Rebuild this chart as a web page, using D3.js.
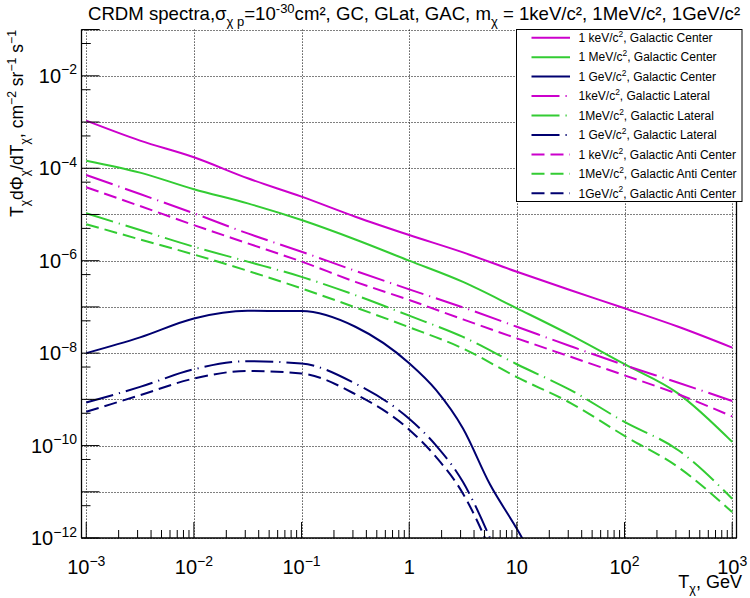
<!DOCTYPE html>
<html>
<head>
<meta charset="utf-8">
<script src="https://cdn.jsdelivr.net/npm/d3@7"></script>
<style>
  html, body { margin: 0; padding: 0; background: #fff; }
  svg { display: block; font-family: "Liberation Sans", Arial, Helvetica, sans-serif; }
</style>
</head>
<body>
<svg id="chart" width="750" height="598"></svg>
<script>
// ---------------- data ----------------
const T_half = [0.001, 0.00316, 0.01, 0.0316, 0.1, 0.316, 1, 3.16, 10, 31.6, 100, 316, 1000];
const T_gev  = [0.001, 0.00316, 0.01, 0.0316, 0.1, 0.316, 1, 1.78, 3.16, 5.62, 10, 31.6];

const keV_GC   = [1.07e-3, 3.96e-4, 1.73e-4, 6.07e-5, 2.43e-5, 8.95e-6, 3.59e-6, 1.51e-6, 5.75e-7, 2.29e-7, 9.33e-8, 3.72e-8, 1.32e-8];
const MeV_GC   = [1.46e-4, 8.05e-5, 3.51e-5, 1.74e-5, 7.59e-6, 2.88e-6, 1.0e-6, 3.47e-7, 9.33e-8, 2.45e-8, 5.75e-9, 1.33e-9, 1.20e-10];
const GeV_GC   = [1.0e-8, 2.19e-8, 5.62e-8, 8.22e-8, 8.13e-8, 3.72e-8, 6.03e-9, 1.58e-9, 2.34e-10, 1.45e-11, 1.58e-12, 1e-14];
const keV_Lat  = [7.16e-5, 2.77e-5, 1.06e-5, 3.89e-6, 1.56e-6, 6.03e-7, 2.40e-7, 9.77e-8, 3.72e-8, 1.41e-8, 5.50e-9, 2.29e-9, 9.23e-10];
const MeV_Lat  = [1.06e-5, 4.60e-6, 2.0e-6, 9.55e-7, 4.47e-7, 1.80e-7, 6.46e-8, 2.24e-8, 5.75e-9, 1.58e-9, 3.24e-10, 7.94e-11, 7.08e-12];
const GeV_Lat  = [8.51e-10, 1.86e-9, 4.47e-9, 6.68e-9, 5.96e-9, 2.19e-9, 3.80e-10, 1.0e-10, 1.62e-11, 1.0e-12, 3.2e-14, 1e-16];
const keV_Anti = [3.89e-5, 1.52e-5, 5.89e-6, 2.37e-6, 9.55e-7, 3.49e-7, 1.41e-7, 5.37e-8, 2.09e-8, 8.32e-9, 3.31e-9, 1.29e-9, 4.27e-10];
const MeV_Anti = [6.17e-6, 2.88e-6, 1.36e-6, 6.03e-7, 2.51e-7, 9.77e-8, 3.63e-8, 1.26e-8, 3.02e-9, 8.32e-10, 1.62e-10, 3.39e-11, 3.63e-12];
const GeV_Anti = [5.37e-10, 1.23e-9, 2.82e-9, 4.12e-9, 3.63e-9, 1.29e-9, 2.21e-10, 5.62e-11, 9.12e-12, 5.62e-13, 1.6e-14, 3e-17];

const legendLabels = [
  [["1 keV/c",""],["2","sup"],[", Galactic Center",""]],
  [["1 MeV/c",""],["2","sup"],[", Galactic Center",""]],
  [["1 GeV/c",""],["2","sup"],[", Galactic Center",""]],
  [["1keV/c",""],["2","sup"],[", Galactic Lateral",""]],
  [["1MeV/c",""],["2","sup"],[", Galactic Lateral",""]],
  [["1 GeV/c",""],["2","sup"],[", Galactic Lateral",""]],
  [["1 keV/c",""],["2","sup"],[", Galactic Anti Center",""]],
  [["1MeV/c",""],["2","sup"],[", Galactic Anti Center",""]],
  [["1GeV/c",""],["2","sup"],[", Galactic Anti Center",""]]
];
const xTickExps = [-3, -2, -1, 0, 1, 2, 3];
const yTickExps = [-2, -4, -6, -8, -10, -12];

// ---------------- styles ----------------
const MAG = "#cc00cc", GRN = "#33cc33", NAV = "#000070";
const DASH_LAT = "28,6,1.2,6", DASH_ANTI = "13,6";

const series = [
  {T: T_half, v: keV_GC,   c: MAG, d: null},
  {T: T_half, v: MeV_GC,   c: GRN, d: null},
  {T: T_gev,  v: GeV_GC,   c: NAV, d: null},
  {T: T_half, v: keV_Lat,  c: MAG, d: DASH_LAT},
  {T: T_half, v: MeV_Lat,  c: GRN, d: DASH_LAT},
  {T: T_gev,  v: GeV_Lat,  c: NAV, d: DASH_LAT},
  {T: T_half, v: keV_Anti, c: MAG, d: DASH_ANTI},
  {T: T_half, v: MeV_Anti, c: GRN, d: DASH_ANTI},
  {T: T_gev,  v: GeV_Anti, c: NAV, d: DASH_ANTI}
];

// ---------------- layout ----------------
const L = 81.5, R = 736.5, TOP = 29.6, B = 538;
const x = d3.scaleLog().domain([Math.pow(10, -3.044), Math.pow(10, 3.04)]).range([L, R]);
const y = d3.scaleLog().domain([1e-12, 1e-1]).range([B, TOP]);

const svg = d3.select("#chart");

function rich(t, parts, size, supK, subK) {
  const su = supK || 0.42, sb = subK || 0.32;
  let shift = 0;
  parts.forEach(([s, m]) => {
    const target = m === "sup" ? -su * size : (m === "sub" ? sb * size : 0);
    t.append("tspan").attr("dy", target - shift).attr("font-size", m ? size * 0.7 : size).text(s);
    shift = target;
  });
}

// grid
const grid = svg.append("g").attr("stroke", "#000").attr("stroke-width", 1).attr("stroke-dasharray", "1,2");
xTickExps.forEach(k => {
  const px = Math.round(x(Math.pow(10, k))) + 0.5;
  grid.append("line").attr("x1", px).attr("x2", px).attr("y1", TOP).attr("y2", B);
});
d3.range(-12, 0).forEach(k => {
  const py = Math.round(y(Math.pow(10, k))) + 0.5;
  grid.append("line").attr("x1", L).attr("x2", R).attr("y1", py).attr("y2", py);
});

// curves
const clip = svg.append("clipPath").attr("id", "clip");
clip.append("rect").attr("x", L).attr("y", TOP).attr("width", R - L).attr("height", B - TOP);
const line = d3.line().curve(d3.curveMonotoneX);
const curves = svg.append("g").attr("clip-path", "url(#clip)");
series.forEach(s => {
  const pts = s.T.map((t, i) => [x(t), y(s.v[i])]);
  curves.append("path").attr("d", line(pts)).attr("fill", "none")
    .attr("stroke", s.c).attr("stroke-width", 2)
    .attr("stroke-dasharray", s.d);
});

// axes lines
const ax = svg.append("g").attr("stroke", "#000").attr("stroke-width", 1.3);
ax.append("line").attr("x1", L).attr("x2", L).attr("y1", TOP).attr("y2", B);
ax.append("line").attr("x1", L).attr("x2", R).attr("y1", B).attr("y2", B);
ax.append("line").attr("x1", R).attr("x2", R).attr("y1", TOP).attr("y2", B);

// x ticks
const xMinor = [];
d3.range(-3, 3).forEach(k => { for (let m = 2; m <= 9; m++) xMinor.push(m * Math.pow(10, k)); });
const tk = svg.append("g").attr("stroke", "#000").attr("stroke-width", 1);
xTickExps.forEach(k => {
  const px = x(Math.pow(10, k));
  tk.append("line").attr("x1", px).attr("x2", px).attr("y1", B).attr("y2", B - 16);
});
xMinor.forEach(v => {
  const px = x(v);
  tk.append("line").attr("x1", px).attr("x2", px).attr("y1", B).attr("y2", B - 8);
});
// y ticks
d3.range(-12, 0).forEach(k => {
  const py = y(Math.pow(10, k));
  tk.append("line").attr("x1", L).attr("x2", L + 18).attr("y1", py).attr("y2", py);
  if (k < -1) {
    const p2 = y(5 * Math.pow(10, k));
    tk.append("line").attr("x1", L).attr("x2", L + 9).attr("y1", p2).attr("y2", p2);
  }
});
{ const p2 = y(5e-2); tk.append("line").attr("x1", L).attr("x2", L + 9).attr("y1", p2).attr("y2", p2); }
tk.append("line").attr("x1", L).attr("x2", L + 18).attr("y1", y(1e-1)).attr("y2", y(1e-1));

// tick labels
xTickExps.forEach(k => {
  const t = svg.append("text").attr("x", x(Math.pow(10, k))).attr("y", 574)
    .attr("text-anchor", "middle").attr("fill", "#000");
  if (k === 0) rich(t, [["1", ""]], 20);
  else if (k === 1) rich(t, [["10", ""]], 20);
  else rich(t, [["10", ""], [(k < 0 ? "\u2212" : "") + Math.abs(k), "sup"]], 20);
});
yTickExps.forEach(k => {
  const t = svg.append("text").attr("x", 77).attr("y", y(Math.pow(10, k)) + 7)
    .attr("text-anchor", "end").attr("fill", "#000");
  rich(t, [["10", ""], ["\u2212" + Math.abs(k), "sup"]], 20);
});

// axis titles
{
  const t = svg.append("text").attr("x", 742).attr("y", 588).attr("text-anchor", "end");
  rich(t, [["T", ""], ["\u03c7", "sub"], [", GeV", ""]], 18, 0.42, 0.26);
}
{
  const t = svg.append("text").attr("transform", "translate(23,30) rotate(-90)").attr("text-anchor", "end");
  rich(t, [["T", ""], ["\u03c7", "sub"], ["d\u03a6", ""], ["\u03c7", "sub"], ["/dT", ""], ["\u03c7", "sub"],
           [", cm", ""], ["\u22122", "sup"], [" sr", ""], ["\u22121", "sup"], [" s", ""], ["\u22121", "sup"]], 17.5);
}

// title
{
  const t = svg.append("text").attr("x", 88).attr("y", 20);
  rich(t, [["CRDM spectra,\u03c3", ""], ["\u03c7 p", "sub"], ["=10", ""], ["-30", "sup"],
           ["cm\u00b2, GC, GLat, GAC, m", ""], ["\u03c7", "sub"], [" = 1keV/c\u00b2, 1MeV/c\u00b2, 1GeV/c\u00b2", ""]], 18.6, 0.36, 0.3);
}

// legend
const LX = 516.5, LY = 29.5, LW = 225.5, LH = 172;
const lg = svg.append("g");
lg.append("rect").attr("x", LX).attr("y", LY).attr("width", LW).attr("height", LH)
  .attr("fill", "#fff").attr("stroke", "#000").attr("stroke-width", 1);
series.forEach((s, i) => {
  const cy = 37.7 + i * 19.45;
  lg.append("line").attr("x1", 531.5).attr("x2", 570).attr("y1", cy).attr("y2", cy)
    .attr("stroke", s.c).attr("stroke-width", 2).attr("stroke-dasharray", s.d);
  const t = lg.append("text").attr("x", 578.5).attr("y", cy + 4.2);
  rich(t, legendLabels[i], 12);
});
</script>
</body>
</html>
